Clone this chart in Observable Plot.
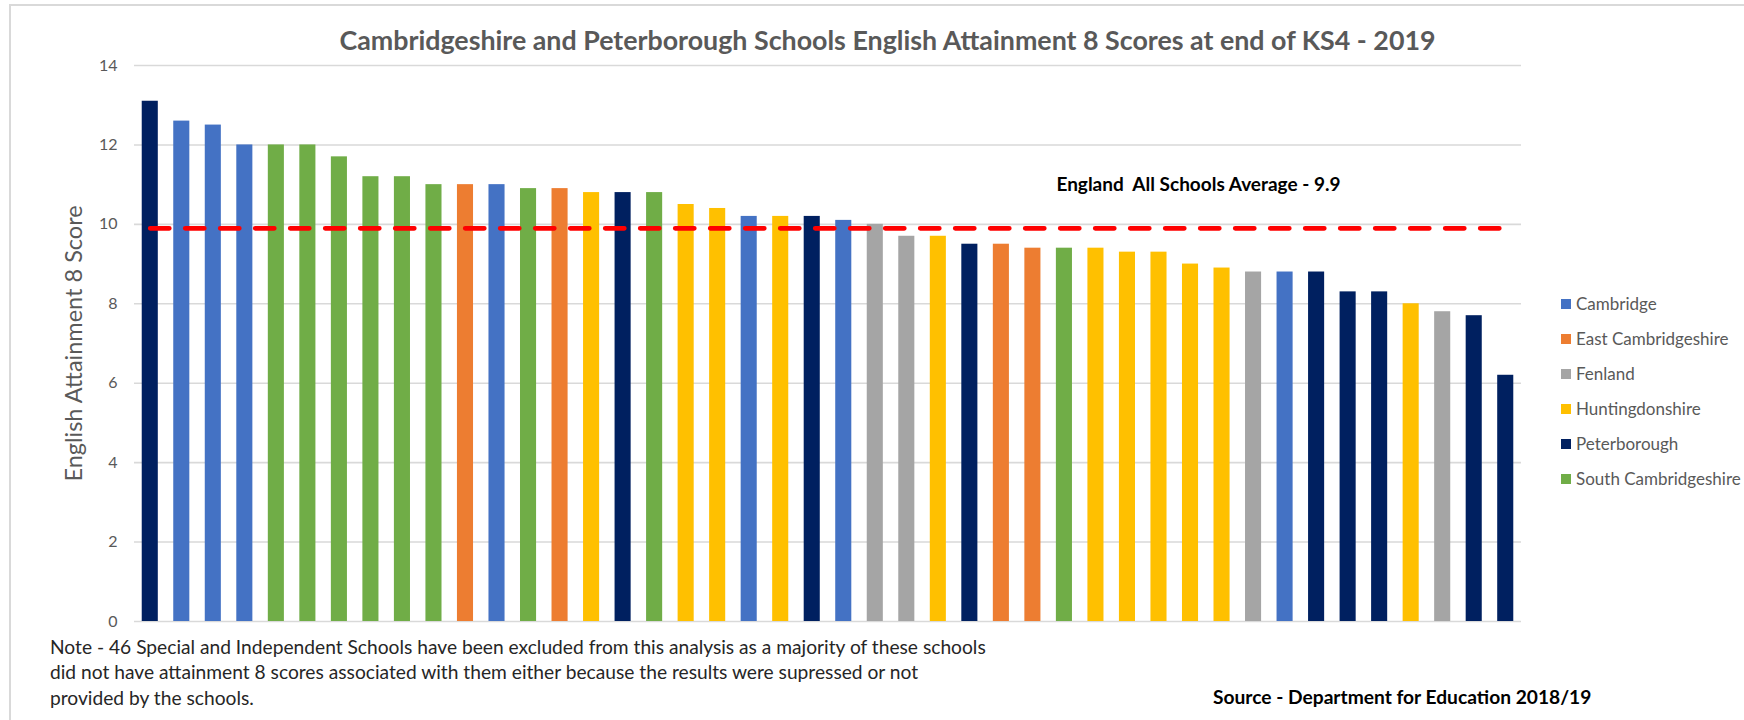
<!DOCTYPE html>
<html>
<head>
<meta charset="utf-8">
<script src="https://cdn.jsdelivr.net/npm/d3@7"></script>
<script src="https://cdn.jsdelivr.net/npm/@observablehq/plot@0.6"></script>
<style>
  body { margin: 0; background: #fff; }
  #wrap { position: relative; width: 1744px; height: 720px; overflow: hidden; font-family: Lato, "Open Sans", sans-serif; background: #fff; }
  #frame { position: absolute; left: 9px; top: 4px; width: 1800px; height: 800px; border-left: 2px solid #d9d9d9; border-top: 2px solid #d9d9d9; box-sizing: border-box; }
  #chart { position: absolute; left: 0; top: 0; }
  #title { position: absolute; left: 0; width: 1775px; top: 24px; text-align: center; font-weight: bold; font-size: 26.8px; line-height: 32px; color: #595959; white-space: nowrap; }
  #legend { position: absolute; left: 1561px; top: 286px; }
  .item { height: 35px; display: flex; align-items: center; font-size: 17px; color: #595959; white-space: nowrap; }
  .sw { width: 10px; height: 10px; margin-right: 5px; flex: none; }
  #note { position: absolute; left: 50px; top: 634px; font-size: 19.2px; line-height: 25.3px; color: #262626; white-space: nowrap; }
  #source { position: absolute; left: 1213px; top: 684px; font-size: 19.2px; line-height: 25px; font-weight: bold; color: #000; white-space: nowrap; }
</style>
</head>
<body>
<div id="wrap">
  <div id="frame"></div>
  <div id="chart"></div>
  <div id="title"></div>
  <div id="legend"></div>
  <div id="note"></div>
  <div id="source"></div>
</div>
<script>
// ---- data ----
const titleText = "Cambridgeshire and Peterborough Schools English Attainment 8 Scores at end of KS4 - 2019";
const yLabel = "English Attainment 8 Score";
const districts = ["Cambridge", "East Cambridgeshire", "Fenland", "Huntingdonshire", "Peterborough", "South Cambridgeshire"];
const districtColors = ["#4472C4", "#ED7D31", "#A5A5A5", "#FFC000", "#002060", "#70AD47"];
const schoolDistricts = [
  "Peterborough", "Cambridge", "Cambridge", "Cambridge", "South Cambridgeshire", "South Cambridgeshire",
  "South Cambridgeshire", "South Cambridgeshire", "South Cambridgeshire", "South Cambridgeshire", "East Cambridgeshire", "Cambridge",
  "South Cambridgeshire", "East Cambridgeshire", "Huntingdonshire", "Peterborough", "South Cambridgeshire", "Huntingdonshire",
  "Huntingdonshire", "Cambridge", "Huntingdonshire", "Peterborough", "Cambridge", "Fenland",
  "Fenland", "Huntingdonshire", "Peterborough", "East Cambridgeshire", "East Cambridgeshire", "South Cambridgeshire",
  "Huntingdonshire", "Huntingdonshire", "Huntingdonshire", "Huntingdonshire", "Huntingdonshire", "Fenland",
  "Cambridge", "Peterborough", "Peterborough", "Peterborough", "Huntingdonshire", "Fenland",
  "Peterborough", "Peterborough"
];
const schoolScores = [
  13.1, 12.6, 12.5, 12.0, 12.0, 12.0,
  11.7, 11.2, 11.2, 11.0, 11.0, 11.0,
  10.9, 10.9, 10.8, 10.8, 10.8, 10.5,
  10.4, 10.2, 10.2, 10.2, 10.1, 10.0,
  9.7, 9.7, 9.5, 9.5, 9.4, 9.4,
  9.4, 9.3, 9.3, 9.0, 8.9, 8.8,
  8.8, 8.8, 8.3, 8.3, 8.0, 7.8,
  7.7, 6.2
];
const englandAverage = 9.9;
const averageLabel = "England  All Schools Average - 9.9";
const averageLabelSchool = 30; // label starts at this school's bar
const yTicks = [0, 2, 4, 6, 8, 10, 12, 14];
const noteLines = [
  "Note - 46 Special and Independent Schools have been excluded from this analysis as a majority of these schools",
  "did not have attainment 8 scores associated with them either because the results were supressed or not",
  "provided by the schools."
];
const sourceText = "Source - Department for Education 2018/19";

// ---- build ----
const schools = schoolScores.map((s, i) => ({ school: i + 1, score: s, district: schoolDistricts[i] }));
const schoolIds = schools.map(d => d.school);

const chart = Plot.plot({
  width: 1744,
  height: 720,
  marginTop: 65,
  marginBottom: 99,
  marginLeft: 134,
  marginRight: 223,
  style: { fontFamily: "Lato, 'Open Sans', sans-serif", background: "transparent" },
  x: { type: "band", domain: schoolIds, paddingInner: 0.49, paddingOuter: 0.245, round: false, axis: null },
  y: { domain: [0, 14] },
  color: { domain: districts, range: districtColors },
  marks: [
    Plot.gridY(yTicks, { stroke: "#d9d9d9", strokeOpacity: 1, strokeWidth: 1.6 }),
    Plot.axisY(yTicks, {
      tickSize: 0, tickPadding: 17, fontSize: 16, color: "#595959",
      label: yLabel, labelAnchor: "center", labelArrow: "none", labelOffset: 69
    }),
    Plot.barY(schools, { x: "school", y: "score", fill: "district" }),
    Plot.lineY(schools, { x: "school", y: () => englandAverage, stroke: "#FF0000", strokeWidth: 4.8, strokeDasharray: "19,16" }),
    Plot.text([averageLabel], { x: () => averageLabelSchool, y: () => 11.0, text: d => d, textAnchor: "start", dx: -8, fontWeight: "bold", fontSize: 19, fill: "#000" })
  ]
});
chart.querySelectorAll("[aria-label='y-axis label'] text, [aria-label='y-axis label']").forEach(e => { e.setAttribute("font-size", 23.5); e.setAttribute("fill", "#595959"); });
document.getElementById("chart").appendChild(chart);

document.getElementById("title").textContent = titleText;
const legend = document.getElementById("legend");
districts.forEach((d, i) => {
  const it = document.createElement("div");
  it.className = "item";
  const sw = document.createElement("span");
  sw.className = "sw";
  sw.style.background = districtColors[i];
  it.appendChild(sw);
  it.appendChild(document.createTextNode(d));
  legend.appendChild(it);
});
document.getElementById("note").innerHTML = noteLines.map(l => `<div>${l}</div>`).join("");
document.getElementById("source").textContent = sourceText;
</script>
</body>
</html>
